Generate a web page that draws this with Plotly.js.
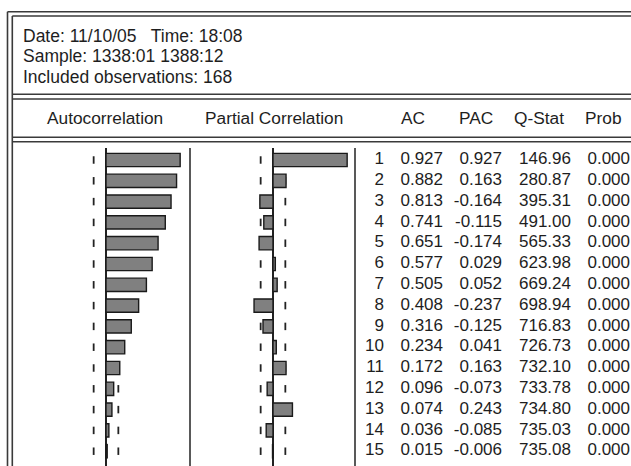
<!DOCTYPE html>
<html>
<head>
<meta charset="utf-8">
<script src="https://cdn.plot.ly/plotly-3.0.1.min.js"></script>
<style>html,body{margin:0;padding:0;background:#fff;}#chart{width:631px;height:466px;}</style>
</head>
<body>
<div id="chart"></div>
<script>
// ---- data ----
const infoDate = "Date: 11/10/05   Time: 18:08";
const infoSample = "Sample: 1338:01 1388:12";
const nObs = 168;
const infoObs = "Included observations: " + nObs;
const columnHeaders = ["Autocorrelation", "Partial Correlation", "AC", "PAC", "Q-Stat", "Prob"];
const lags = [1, 2, 3, 4, 5, 6, 7, 8, 9, 10, 11, 12, 13, 14, 15];
const ac = [0.927, 0.882, 0.813, 0.741, 0.651, 0.577, 0.505, 0.408, 0.316, 0.234, 0.172, 0.096, 0.074, 0.036, 0.015];
const pac = [0.927, 0.163, -0.164, -0.115, -0.174, 0.029, 0.052, -0.237, -0.125, 0.041, 0.163, -0.073, 0.243, -0.085, -0.006];
const qstat = [146.96, 280.87, 395.31, 491.00, 565.33, 623.98, 669.24, 698.94, 716.83, 726.73, 732.10, 733.78, 734.80, 735.03, 735.08];
const prob = [0.000, 0.000, 0.000, 0.000, 0.000, 0.000, 0.000, 0.000, 0.000, 0.000, 0.000, 0.000, 0.000, 0.000, 0.000];

// ---- layout helpers ----
const W = 631, H = 466;
const X = px => px / W;
const Y = py => 1 - py / H;
const FONT = "Liberation Sans, Arial, sans-serif";
const TXT = "#1e1e1e";
const LINE = "#3a3a3a";
const bound = 2 / Math.sqrt(nObs);

const rowTop = 148, row1 = 160, rowStep = 20.8;
const yRange = [15 + (H - (row1 + 14 * rowStep)) / rowStep, 1 - (row1 - rowTop) / rowStep];

// right edges (px) of the numeric columns
const colX = {lag: 384, ac: 443, pac: 502, q: 571, prob: 630};

function textTrace(vals, x) {
  return {
    type: "scatter", mode: "text", xaxis: "x3", yaxis: "y",
    x: lags.map(() => x), y: lags, text: vals,
    textposition: "middle left",
    textfont: {family: FONT, size: 17, color: TXT},
    hoverinfo: "skip", showlegend: false, cliponaxis: false
  };
}

const barStyle = {color: "#808080", line: {color: "#1a1a1a", width: 1.4}};
const data = [
  {type: "bar", orientation: "h", x: ac, y: lags, xaxis: "x", yaxis: "y", width: 0.64, marker: barStyle, hoverinfo: "skip", showlegend: false},
  {type: "bar", orientation: "h", x: pac, y: lags, xaxis: "x2", yaxis: "y", width: 0.64, marker: barStyle, hoverinfo: "skip", showlegend: false},
  textTrace(lags.map(String), colX.lag),
  textTrace(ac.map(v => v.toFixed(3)), colX.ac),
  textTrace(pac.map(v => v.toFixed(3)), colX.pac),
  textTrace(qstat.map(v => v.toFixed(2)), colX.q),
  textTrace(prob.map(v => v.toFixed(3)), colX.prob)
];

// decorations: borders / separators
function hline(py, x0, x1) { return {type: "line", xref: "paper", yref: "paper", x0: X(x0), x1: X(x1), y0: Y(py), y1: Y(py), line: {color: LINE, width: 1.6}}; }
function vline(px, y0, y1) { return {type: "line", xref: "paper", yref: "paper", x0: X(px), x1: X(px), y0: Y(y0), y1: Y(y1), line: {color: LINE, width: 1.6}}; }
const shapes = [
  vline(7.5, 11.7, H), vline(12.3, 16, H),
  hline(11.7, 7.5, W), hline(16, 12.3, W),
  hline(94.3, 12.3, W), hline(99, 12.3, W),
  hline(137.3, 12.3, W), hline(141.7, 12.3, W),
  {type: "line", xref: "paper", yref: "paper", x0: X(190), x1: X(190), y0: Y(rowTop), y1: 0, line: {color: "#222", width: 1.5}},
  {type: "line", xref: "paper", yref: "paper", x0: X(355), x1: X(355), y0: Y(rowTop), y1: 0, line: {color: "#222", width: 1.5}}
];
// confidence-band dashes, one per lag, in both panels (beneath the bars)
["x", "x2"].forEach(ax => {
  [-bound, bound].forEach(b => {
    lags.forEach(l => {
      shapes.push({type: "line", layer: "below", xref: ax, yref: "y", x0: b, x1: b, y0: l - 0.18, y1: l + 0.18, line: {color: "#222", width: 1.8}});
    });
  });
});

function ann(text, px, py, anchor, size) {
  return {text: text, xref: "paper", yref: "paper", x: X(px), y: Y(py), xanchor: anchor, yanchor: "middle", showarrow: false, font: {family: FONT, size: size, color: TXT}};
}
const annotations = [
  ann(infoDate, 21, 35.5, "left", 17.5),
  ann(infoSample, 21, 56.5, "left", 17.5),
  ann(infoObs, 21, 77, "left", 17.5),
  ann(columnHeaders[0], 105, 118.5, "center", 17.3),
  ann(columnHeaders[1], 274, 118.5, "center", 17.3),
  ann(columnHeaders[2], 412.5, 118.5, "center", 17.3),
  ann(columnHeaders[3], 475.5, 118.5, "center", 17.3),
  ann(columnHeaders[4], 539, 118.5, "center", 17.3),
  ann(columnHeaders[5], 603, 118.5, "center", 17.3)
];

const hidden = {showgrid: false, showticklabels: false, ticks: "", showline: false, fixedrange: true};
const layout = {
  width: W, height: H,
  margin: {l: 0, r: 0, t: 0, b: 0, pad: 0},
  paper_bgcolor: "#fff", plot_bgcolor: "rgba(0,0,0,0)",
  showlegend: false, barmode: "overlay", bargap: 0,
  xaxis: Object.assign({}, hidden, {domain: [X(26), X(186)], range: [-1, 1], anchor: "y", zeroline: true, zerolinecolor: "#222", zerolinewidth: 1.5}),
  xaxis2: Object.assign({}, hidden, {domain: [X(193), X(353)], range: [-1, 1], anchor: "y", zeroline: true, zerolinecolor: "#222", zerolinewidth: 1.5}),
  xaxis3: Object.assign({}, hidden, {domain: [0, 1], range: [0, W], anchor: "y", zeroline: false}),
  yaxis: Object.assign({}, hidden, {domain: [0, Y(rowTop)], range: yRange, anchor: "x", zeroline: false}),
  shapes: shapes,
  annotations: annotations
};

Plotly.newPlot("chart", data, layout, {staticPlot: true, displayModeBar: false});
</script>
</body>
</html>
